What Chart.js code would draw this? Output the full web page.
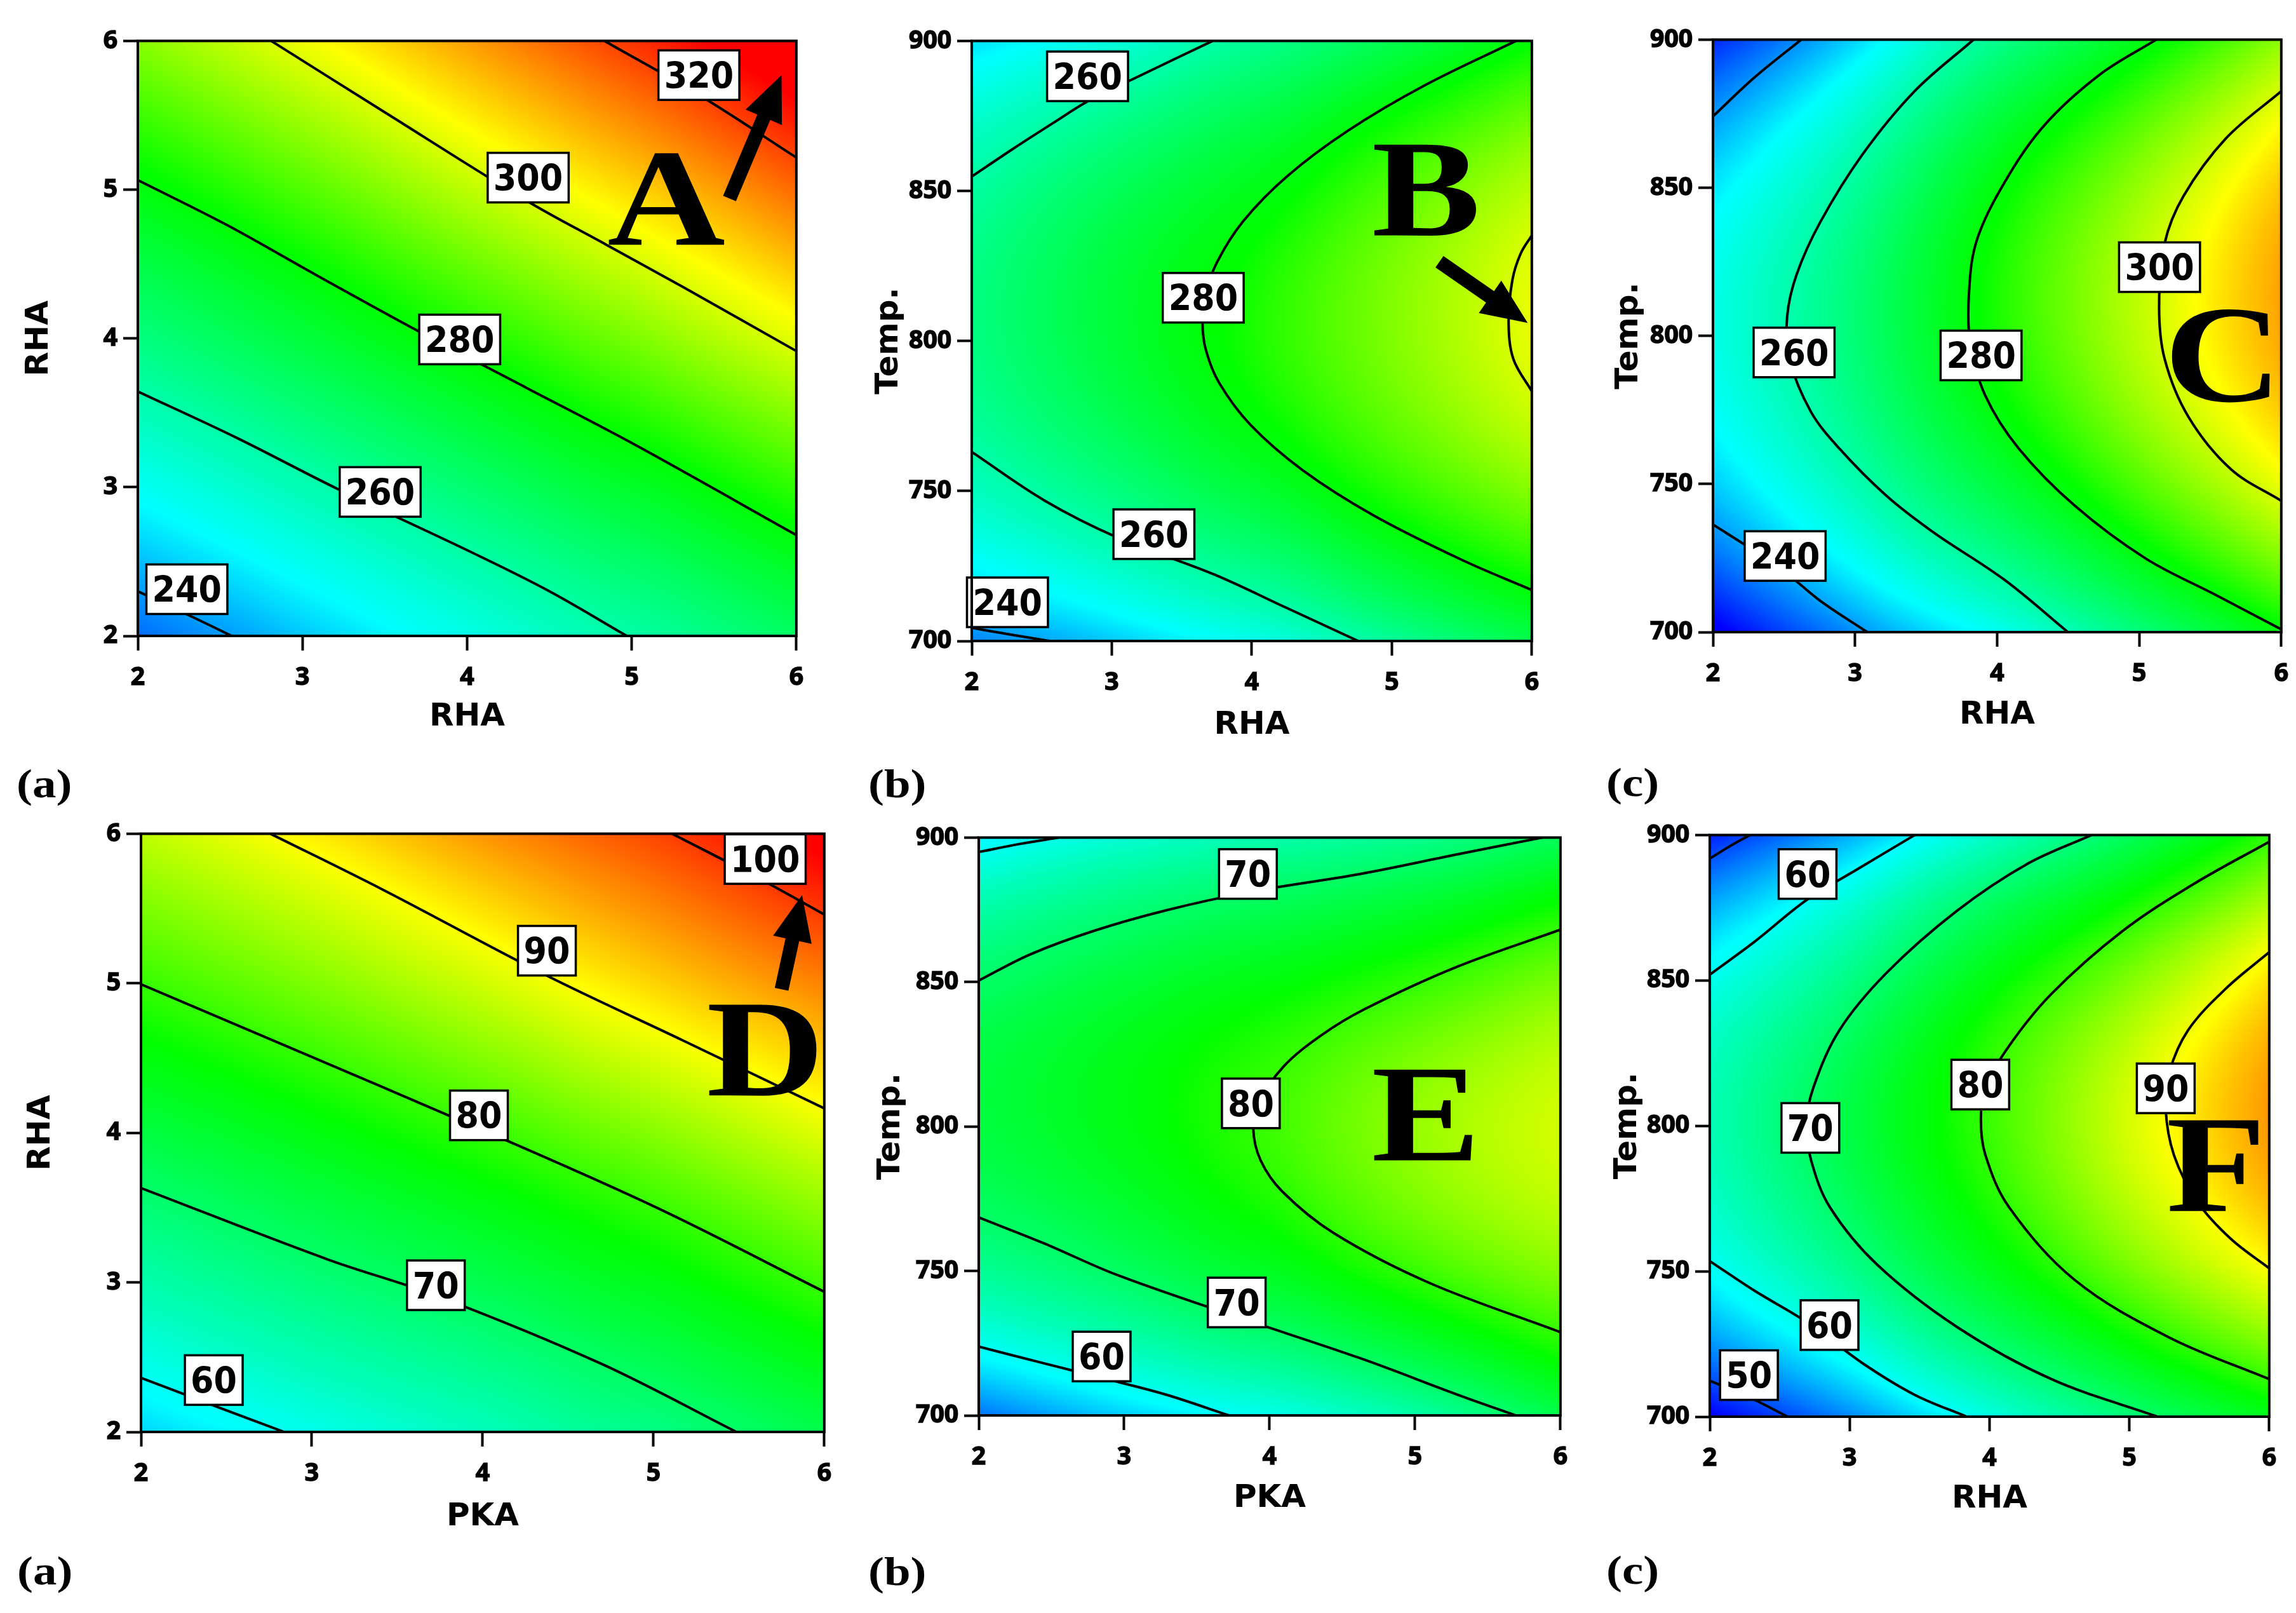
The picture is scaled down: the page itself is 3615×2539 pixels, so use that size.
<!DOCTYPE html>
<html>
<head>
<meta charset="utf-8">
<script src="https://cdn.jsdelivr.net/npm/chart.js@4.4.1/dist/chart.umd.min.js"></script>
<style>
    html, body { margin: 0; padding: 0; background: #fff; }
    body { width: 3615px; height: 2539px; position: relative; overflow: hidden; }
    canvas { position: absolute; }
    .sub { position: absolute; font: bold 64px "Liberation Serif", "Times New Roman", serif; line-height: 1; color: #000; transform: scaleX(1.17); transform-origin: 0 0; }
</style>
</head>
<body>
<div class="sub" style="left:26px;top:1202px">(a)</div>
<div class="sub" style="left:1367px;top:1202px">(b)</div>
<div class="sub" style="left:2529px;top:1200px">(c)</div>
<div class="sub" style="left:27px;top:2441px">(a)</div>
<div class="sub" style="left:1367px;top:2442px">(b)</div>
<div class="sub" style="left:2529px;top:2440px">(c)</div>
<script>
/* 軸刻度 */
const rhaTicks = [2, 3, 4, 5, 6];
const pkaTicks = [2, 3, 4, 5, 6];
const tempTicks = [700, 750, 800, 850, 900];

/* 色階範圍 (藍 -> 紅) */
const zRangeTop = [226, 326];
const zRangeBottom = [46, 103];

/* 響應值: 列 = y 刻度 (由下往上), 行 = x 刻度 */
const gridA = [
    [235.5, 243.8, 252.0, 260.2, 268.8],
    [250.4, 258.5, 267.0, 276.0, 285.2],
    [265.0, 273.5, 282.5, 291.7, 301.3],
    [279.1, 288.0, 297.5, 306.9, 316.7],
    [292.9, 302.3, 312.0, 321.5, 331.8]
];
const gridB = [
    [237.9, 244.0, 251.5, 262.0, 271.5],
    [256.9, 264.9, 274.0, 284.0, 292.7],
    [264.6, 273.8, 283.1, 292.2, 301.4],
    [260.9, 269.8, 278.0, 288.0, 297.4],
    [246.0, 253.2, 262.5, 271.2, 280.7]
];
const gridC = [
    [224.0, 238.8, 250.8, 265.6, 280.1],
    [244.3, 258.7, 273.3, 288.0, 301.9],
    [251.9, 266.4, 282.9, 297.5, 311.3],
    [246.9, 261.8, 279.6, 294.2, 308.5],
    [229.3, 245.1, 263.2, 278.1, 293.4]
];
const gridD = [
    [57.0, 60.6, 64.0, 68.0, 72.0],
    [65.0, 68.6, 71.8, 75.9, 80.5],
    [72.7, 76.2, 79.9, 84.1, 88.7],
    [80.0, 83.7, 87.8, 92.3, 96.5],
    [86.9, 91.0, 95.5, 99.5, 104.2]
];
const gridE = [
    [51.8, 56.6, 60.5, 65.3, 72.1],
    [66.7, 70.5, 75.0, 80.0, 84.1],
    [72.8, 76.0, 80.3, 84.8, 87.9],
    [70.1, 73.4, 76.5, 79.7, 83.6],
    [58.5, 62.3, 65.0, 67.3, 71.1]
];
const gridF = [
    [45.6, 53.0, 61.2, 68.8, 75.4],
    [59.4, 67.2, 75.3, 83.0, 89.8],
    [64.3, 72.5, 80.2, 88.1, 95.3],
    [60.4, 68.0, 76.4, 83.8, 91.6],
    [47.5, 55.0, 63.0, 71.0, 79.3]
];

/* 等高線: [level, [[x, y], ...]] */
const contoursA = [
    [240, [[2, 2.30], [2.28, 2.155], [2.57, 2]]],
    [260, [[2, 3.643], [2.6, 3.332], [3.21, 2.99], [4.04, 2.555], [4.5, 2.3], [4.97, 2]]],
    [280, [[2, 5.064], [2.54, 4.763], [3.08, 4.428], [3.72, 4.039], [4.36, 3.668], [5.0, 3.297], [6, 2.678]]],
    [300, [[2.81, 6], [3.5, 5.52], [4.37, 4.92], [4.84, 4.633], [5.32, 4.34], [6, 3.915]]],
    [320, [[4.835, 6], [5.42, 5.629], [6, 5.216]]]
];
const contoursB = [
    [240, [[2, 704.4], [2.28, 702.1], [2.555, 700]]],
    [260, [[2, 854.8], [2.3, 864.2], [2.59, 872.9], [2.83, 879.9], [3.21, 888.6], [3.72, 900]]],
    [260, [[2, 763.0], [2.52, 746.8], [3.04, 734.5], [3.73, 722.2], [4.25, 711.0], [4.76, 700]]],
    [280, [[5.886, 900], [5.227, 885], [4.684, 870], [4.255, 855], [3.94, 840], [3.749, 826], [3.668, 815], [3.648, 806], [3.672, 797], [3.767, 786], [3.991, 772], [4.361, 757], [4.865, 742], [5.502, 727], [6, 717]]],
    [300, [[6, 835.2], [5.92, 829.1], [5.861, 820.3], [5.834, 806.3], [5.868, 794.0], [6, 783.2]]]
];
const contoursC = [
    [240, [[2, 874.1], [2.289, 887.1], [2.621, 900]]],
    [240, [[2, 736.3], [2.289, 727.5], [2.505, 720.4], [2.754, 710.6], [3.086, 700]]],
    [260, [[3.834, 900], [3.419, 882.6], [3.053, 861.3], [2.754, 838.3], [2.588, 820.6], [2.522, 806.4], [2.538, 792.2], [2.688, 774.5], [2.887, 762.1], [3.219, 746.1], [3.551, 733.7], [4.05, 717.7], [4.498, 700]]],
    [280, [[5.12, 900], [4.714, 887.9], [4.316, 870.2], [4.017, 848.9], [3.85, 831.2], [3.801, 813.5], [3.811, 797.5], [3.917, 779.8], [4.15, 762.1], [4.548, 742.6], [5.047, 724.8], [5.545, 712.4], [6, 700.9]]],
    [300, [[6, 882.6], [5.611, 866.7], [5.312, 847.2], [5.179, 831.2], [5.14, 809.9], [5.179, 792.2], [5.346, 772.7], [5.645, 755.0], [6, 744.3]]]
];
const contoursD = [
    [60, [[2, 2.362], [2.422, 2.178], [2.838, 2]]],
    [70, [[2, 3.631], [3.094, 3.153], [3.734, 2.909], [4.694, 2.456], [5.485, 2]]],
    [80, [[2, 4.993], [2.774, 4.617], [3.974, 4.031], [5.014, 3.502], [6, 2.937]]],
    [90, [[2.758, 6], [3.414, 5.627], [4.374, 5.052], [5.174, 4.617], [6, 4.164]]],
    [100, [[5.11, 6], [5.654, 5.679], [6, 5.46]]]
];
const contoursE = [
    [60, [[2, 895], [2.284, 897.8], [2.551, 900]]],
    [70, [[2, 850.5], [2.351, 859.5], [2.785, 867.6], [3.287, 874.8], [3.855, 881.1], [4.623, 887.4], [5.292, 894.2], [5.876, 900]]],
    [70, [[2, 768.5], [2.451, 759.5], [2.952, 748.6], [3.771, 734.2], [4.623, 719.8], [5.292, 707.2], [5.693, 700]]],
    [60, [[2, 723.8], [2.451, 718.0], [2.845, 713.0], [3.287, 707.2], [3.721, 700]]],
    [80, [[6, 868.1], [5.275, 855.0], [4.649, 840.5], [4.354, 831.5], [4.095, 820.7], [3.924, 808.1], [3.888, 799.1], [3.938, 788.3], [4.087, 777.5], [4.441, 763.1], [5.097, 745.9], [6, 728.8]]]
];
const contoursF = [
    [50, [[2, 891.9], [2.152, 896.4], [2.286, 900]]],
    [50, [[2, 712.4], [2.286, 706.6], [2.556, 700]]],
    [60, [[2, 852.0], [2.32, 863.3], [2.691, 877.6], [3.061, 888.4], [3.466, 900]]],
    [60, [[2, 753.5], [2.32, 743.3], [2.691, 732.6], [3.095, 718.3], [3.466, 707.5], [3.837, 700]]],
    [70, [[4.73, 900], [4.275, 890.2], [3.769, 874.0], [3.264, 852.6], [2.927, 832.9], [2.741, 813.2], [2.691, 800.6], [2.725, 788.1], [2.859, 772.0], [3.196, 752.3], [3.769, 730.8], [4.443, 712.9], [5.201, 700]]],
    [80, [[6, 897.7], [5.454, 883.0], [4.949, 866.9], [4.443, 845.4], [4.14, 827.5], [3.971, 813.2], [3.938, 802.4], [3.971, 789.9], [4.14, 772.0], [4.612, 746.9], [5.286, 727.2], [6, 712.9]]],
    [90, [[6, 859.7], [5.69, 847.2], [5.42, 832.9], [5.286, 818.5], [5.259, 806.0], [5.319, 789.9], [5.488, 773.8], [5.724, 761.2], [6, 751.0]]]
];

/* 等高線標籤: [x, y, 文字] */
const labelsA = [[2.298, 2.314, '240'], [3.472, 2.968, '260'], [3.955, 3.993, '280'], [4.371, 5.081, '300'], [5.408, 5.770, '320']];
const labelsB = [[2.827, 888.2, '260'], [3.653, 814.4, '280'], [3.301, 735.6, '260'], [2.255, 712.9, '240']];
const labelsC = [[5.143, 823.2, '300'], [2.571, 794.4, '260'], [3.887, 793.4, '280'], [2.508, 725.7, '240']];
const labelsD = [[5.654, 5.831, '100'], [4.376, 5.218, '90'], [3.978, 4.117, '80'], [3.726, 2.981, '70'], [2.426, 2.347, '60']];
const labelsE = [[3.851, 887.4, '70'], [3.871, 808.0, '80'], [3.774, 739.1, '70'], [2.845, 720.4, '60']];
const labelsF = [[2.699, 886.6, '60'], [2.719, 799.3, '70'], [3.934, 814.2, '80'], [5.26, 812.9, '90'], [2.856, 731.5, '60'], [2.28, 714.3, '50']];

/* 大字母與箭頭 */
const letterA = [5.21, 4.63, 'A'];
const letterB = [5.245, 835.2, 'B'];
const letterC = [5.59, 778, 'C'];
const letterD = [5.655, 4.25, 'D'];
const letterE = [5.075, 788.3, 'E'];
const letterF = [5.62, 770.7, 'F'];
const arrowA = [5.594, 4.94, 5.91, 5.77];
const arrowB = [5.34, 826.4, 5.97, 806];
const arrowD = [5.75, 4.96, 5.87, 5.59];

/* 版面 (頁面像素): 繪圖區 [left, top, right, bottom] */
const panels = [
    { plot: [217, 62, 1254, 1001], xTitle: 'RHA', yTitle: 'RHA', xTicks: rhaTicks, yTicks: rhaTicks, grid: gridA, z: zRangeTop, contours: contoursA, labels: labelsA, letter: letterA, arrow: arrowA, yOff: 155, xOff: 128 },
    { plot: [1530, 62, 2412, 1009], xTitle: 'RHA', yTitle: 'Temp.', xTicks: rhaTicks, yTicks: tempTicks, grid: gridB, z: zRangeTop, contours: contoursB, labels: labelsB, letter: letterB, arrow: arrowB, yOff: 130, xOff: 133 },
    { plot: [2697, 60, 3592, 995], xTitle: 'RHA', yTitle: 'Temp.', xTicks: rhaTicks, yTicks: tempTicks, grid: gridC, z: zRangeTop, contours: contoursC, labels: labelsC, letter: letterC, arrow: null, yOff: 132, xOff: 131 },
    { plot: [222, 1310, 1298, 2254], xTitle: 'PKA', yTitle: 'RHA', xTicks: pkaTicks, yTicks: rhaTicks, grid: gridD, z: zRangeBottom, contours: contoursD, labels: labelsD, letter: letterD, arrow: arrowD, yOff: 157, xOff: 134 },
    { plot: [1541, 1316, 2457, 2228], xTitle: 'PKA', yTitle: 'Temp.', xTicks: pkaTicks, yTicks: tempTicks, grid: gridE, z: zRangeBottom, contours: contoursE, labels: labelsE, letter: letterE, arrow: null, yOff: 138, xOff: 131 },
    { plot: [2692, 1312, 3573, 2230], xTitle: 'RHA', yTitle: 'Temp.', xTicks: rhaTicks, yTicks: tempTicks, grid: gridF, z: zRangeBottom, contours: contoursF, labels: labelsF, letter: letterF, arrow: null, yOff: 129, xOff: 130 }
];

const stopPos = [0, 0.23, 0.55, 0.775, 1];
const stopRGB = [[0, 0, 255], [0, 255, 255], [0, 255, 0], [255, 255, 0], [255, 0, 0]];

// Catmull-Rom 內插, 端點以二次外插補點
function cubicAt(v, t) {
    const n = v.length;
    let i = Math.floor(t);
    if (i < 0) i = 0;
    if (i > n - 2) i = n - 2;
    const u = t - i;
    const p1 = v[i], p2 = v[i + 1];
    const p0 = i > 0 ? v[i - 1] : 3 * v[0] - 3 * v[1] + v[2];
    const p3 = i + 2 < n ? v[i + 2] : 3 * v[n - 1] - 3 * v[n - 2] + v[n - 3];
    return 0.5 * (2 * p1 + (-p0 + p2) * u + (2 * p0 - 5 * p1 + 4 * p2 - p3) * u * u + (-p0 + 3 * p1 - 3 * p2 + p3) * u * u * u);
}

function putColor(t, out, k) {
    if (t < 0) t = 0;
    if (t > 1) t = 1;
    let s = 0;
    while (s < 3 && t > stopPos[s + 1]) s++;
    const f = (t - stopPos[s]) / (stopPos[s + 1] - stopPos[s]);
    const a = stopRGB[s], b = stopRGB[s + 1];
    out[k] = a[0] + (b[0] - a[0]) * f;
    out[k + 1] = a[1] + (b[1] - a[1]) * f;
    out[k + 2] = a[2] + (b[2] - a[2]) * f;
    out[k + 3] = 255;
}

function drawArrow(ctx, x0, y0, x1, y1) {
    const shaft = 22, headL = 72, headW = 62;
    const dx = x1 - x0, dy = y1 - y0, len = Math.hypot(dx, dy);
    const ux = dx / len, uy = dy / len, nx = -uy, ny = ux;
    const bx = x1 - ux * headL, by = y1 - uy * headL;
    ctx.beginPath();
    ctx.moveTo(x0 + nx * shaft / 2, y0 + ny * shaft / 2);
    ctx.lineTo(bx + nx * shaft / 2, by + ny * shaft / 2);
    ctx.lineTo(bx + nx * headW / 2, by + ny * headW / 2);
    ctx.lineTo(x1, y1);
    ctx.lineTo(bx - nx * headW / 2, by - ny * headW / 2);
    ctx.lineTo(bx - nx * shaft / 2, by - ny * shaft / 2);
    ctx.lineTo(x0 - nx * shaft / 2, y0 - ny * shaft / 2);
    ctx.closePath();
    ctx.fill();
}

Chart.defaults.font.family = '"DejaVu Sans", Verdana, sans-serif';
Chart.defaults.color = '#000';

const yW = 200, xH = 170, padT = 30, padR = 30;
const tickFont = { family: '"Open Sans", "DejaVu Sans", sans-serif', weight: 'bold', size: 39 };
const titleFont = { family: '"DejaVu Sans", Verdana, sans-serif', weight: 'bold', size: 50 };

panels.forEach(p => {
    const [L, T, R, B] = p.plot;
    const w = R - L + yW + padR, h = B - T + padT + xH;
    const cv = document.createElement('canvas');
    cv.width = w;
    cv.height = h;
    cv.style.left = (L - yW) + 'px';
    cv.style.top = (T - padT) + 'px';
    cv.style.width = w + 'px';
    cv.style.height = h + 'px';
    document.body.appendChild(cv);

    // 底色 (響應面)
    const fieldPlugin = {
        id: 'field',
        beforeDatasetsDraw(chart) {
            const { ctx, chartArea: ca, scales } = chart;
            const left = Math.round(ca.left), top = Math.round(ca.top);
            const W = Math.round(ca.right) - left, H = Math.round(ca.bottom) - top;
            const img = ctx.createImageData(W, H);
            const xs = p.xTicks, ys = p.yTicks;
            const dx = xs[1] - xs[0], dy = ys[1] - ys[0];
            const z0 = p.z[0], zs = p.z[1] - p.z[0];
            const cols = [];
            for (let i = 0; i < W; i++) {
                const tx = (scales.x.getValueForPixel(left + i + 0.5) - xs[0]) / dx;
                cols.push(p.grid.map(row => cubicAt(row, tx)));
            }
            for (let j = 0; j < H; j++) {
                const ty = (scales.y.getValueForPixel(top + j + 0.5) - ys[0]) / dy;
                for (let i = 0; i < W; i++) {
                    putColor((cubicAt(cols[i], ty) - z0) / zs, img.data, (j * W + i) * 4);
                }
            }
            ctx.putImageData(img, left, top);
        }
    };

    // 標籤、字母、箭頭、外框
    const marksPlugin = {
        id: 'marks',
        afterDatasetsDraw(chart) {
            const { ctx, scales: { x, y } } = chart;
            ctx.save();
            ctx.font = 'bold 57px "DejaVu Sans", Verdana, sans-serif';
            ctx.textAlign = 'center';
            ctx.textBaseline = 'alphabetic';
            p.labels.forEach(([vx, vy, txt]) => {
                const cx = x.getPixelForValue(vx), cy = y.getPixelForValue(vy);
                const tw = ctx.measureText(txt).width * 0.92 + 18, th = 78;
                ctx.fillStyle = '#fff';
                ctx.fillRect(cx - tw / 2, cy - th / 2, tw, th);
                ctx.lineWidth = 3.5;
                ctx.strokeStyle = '#000';
                ctx.strokeRect(cx - tw / 2, cy - th / 2, tw, th);
                ctx.fillStyle = '#000';
                ctx.save();
                ctx.translate(cx, cy + 0.3645 * 57);
                ctx.scale(0.92, 1);
                ctx.fillText(txt, 0, 0);
                ctx.restore();
            });
            const [lx, ly, ch] = p.letter;
            ctx.save();
            ctx.translate(x.getPixelForValue(lx), y.getPixelForValue(ly));
            ctx.scale(1.18, 1);
            ctx.font = 'bold 218px "Liberation Serif", "Times New Roman", serif';
            ctx.fillText(ch, 0, 0);
            ctx.restore();
            if (p.arrow) {
                const [a0, b0, a1, b1] = p.arrow;
                drawArrow(ctx, x.getPixelForValue(a0), y.getPixelForValue(b0), x.getPixelForValue(a1), y.getPixelForValue(b1));
            }
            ctx.restore();
        },
        afterDraw(chart) {
            const { ctx, chartArea: ca } = chart;
            ctx.save();
            ctx.lineWidth = 4;
            ctx.strokeStyle = '#000';
            ctx.strokeRect(ca.left, ca.top, ca.right - ca.left, ca.bottom - ca.top);
            ctx.restore();
        }
    };

    new Chart(cv, {
        type: 'line',
        data: {
            datasets: p.contours.map(c => ({
                label: String(c[0]),
                data: c[1].map(pt => ({ x: pt[0], y: pt[1] })),
                borderColor: '#000',
                borderWidth: 4,
                pointRadius: 0,
                tension: 0.35,
                fill: false
            }))
        },
        options: {
            responsive: false,
            animation: false,
            devicePixelRatio: 1,
            layout: { padding: { top: padT, right: padR, left: 0, bottom: 0 } },
            plugins: { legend: { display: false }, tooltip: { enabled: false } },
            scales: {
                x: {
                    type: 'linear',
                    min: p.xTicks[0],
                    max: p.xTicks[p.xTicks.length - 1],
                    afterBuildTicks: s => { s.ticks = p.xTicks.map(v => ({ value: v })); },
                    afterFit: s => { s.height = xH; },
                    grid: { display: true, drawOnChartArea: false, drawTicks: true, tickLength: 23, tickWidth: 4, tickColor: '#000' },
                    border: { display: false },
                    ticks: { color: '#000', font: tickFont, padding: 19, maxRotation: 0, autoSkip: false, textStrokeColor: '#000', textStrokeWidth: 1.5 },
                    title: { display: true, text: p.xTitle, color: '#000', font: titleFont, padding: xH - p.xOff - 30 }
                },
                y: {
                    type: 'linear',
                    min: p.yTicks[0],
                    max: p.yTicks[p.yTicks.length - 1],
                    afterBuildTicks: s => { s.ticks = p.yTicks.map(v => ({ value: v })); },
                    afterFit: s => { s.width = yW; },
                    grid: { display: true, drawOnChartArea: false, drawTicks: true, tickLength: 23, tickWidth: 4, tickColor: '#000' },
                    border: { display: false },
                    ticks: { color: '#000', font: tickFont, padding: 9, autoSkip: false, textStrokeColor: '#000', textStrokeWidth: 1.5 },
                    title: { display: true, text: p.yTitle, color: '#000', font: titleFont, padding: yW - p.yOff - 30 }
                }
            }
        },
        plugins: [fieldPlugin, marksPlugin]
    });
});
</script>
</body>
</html>
